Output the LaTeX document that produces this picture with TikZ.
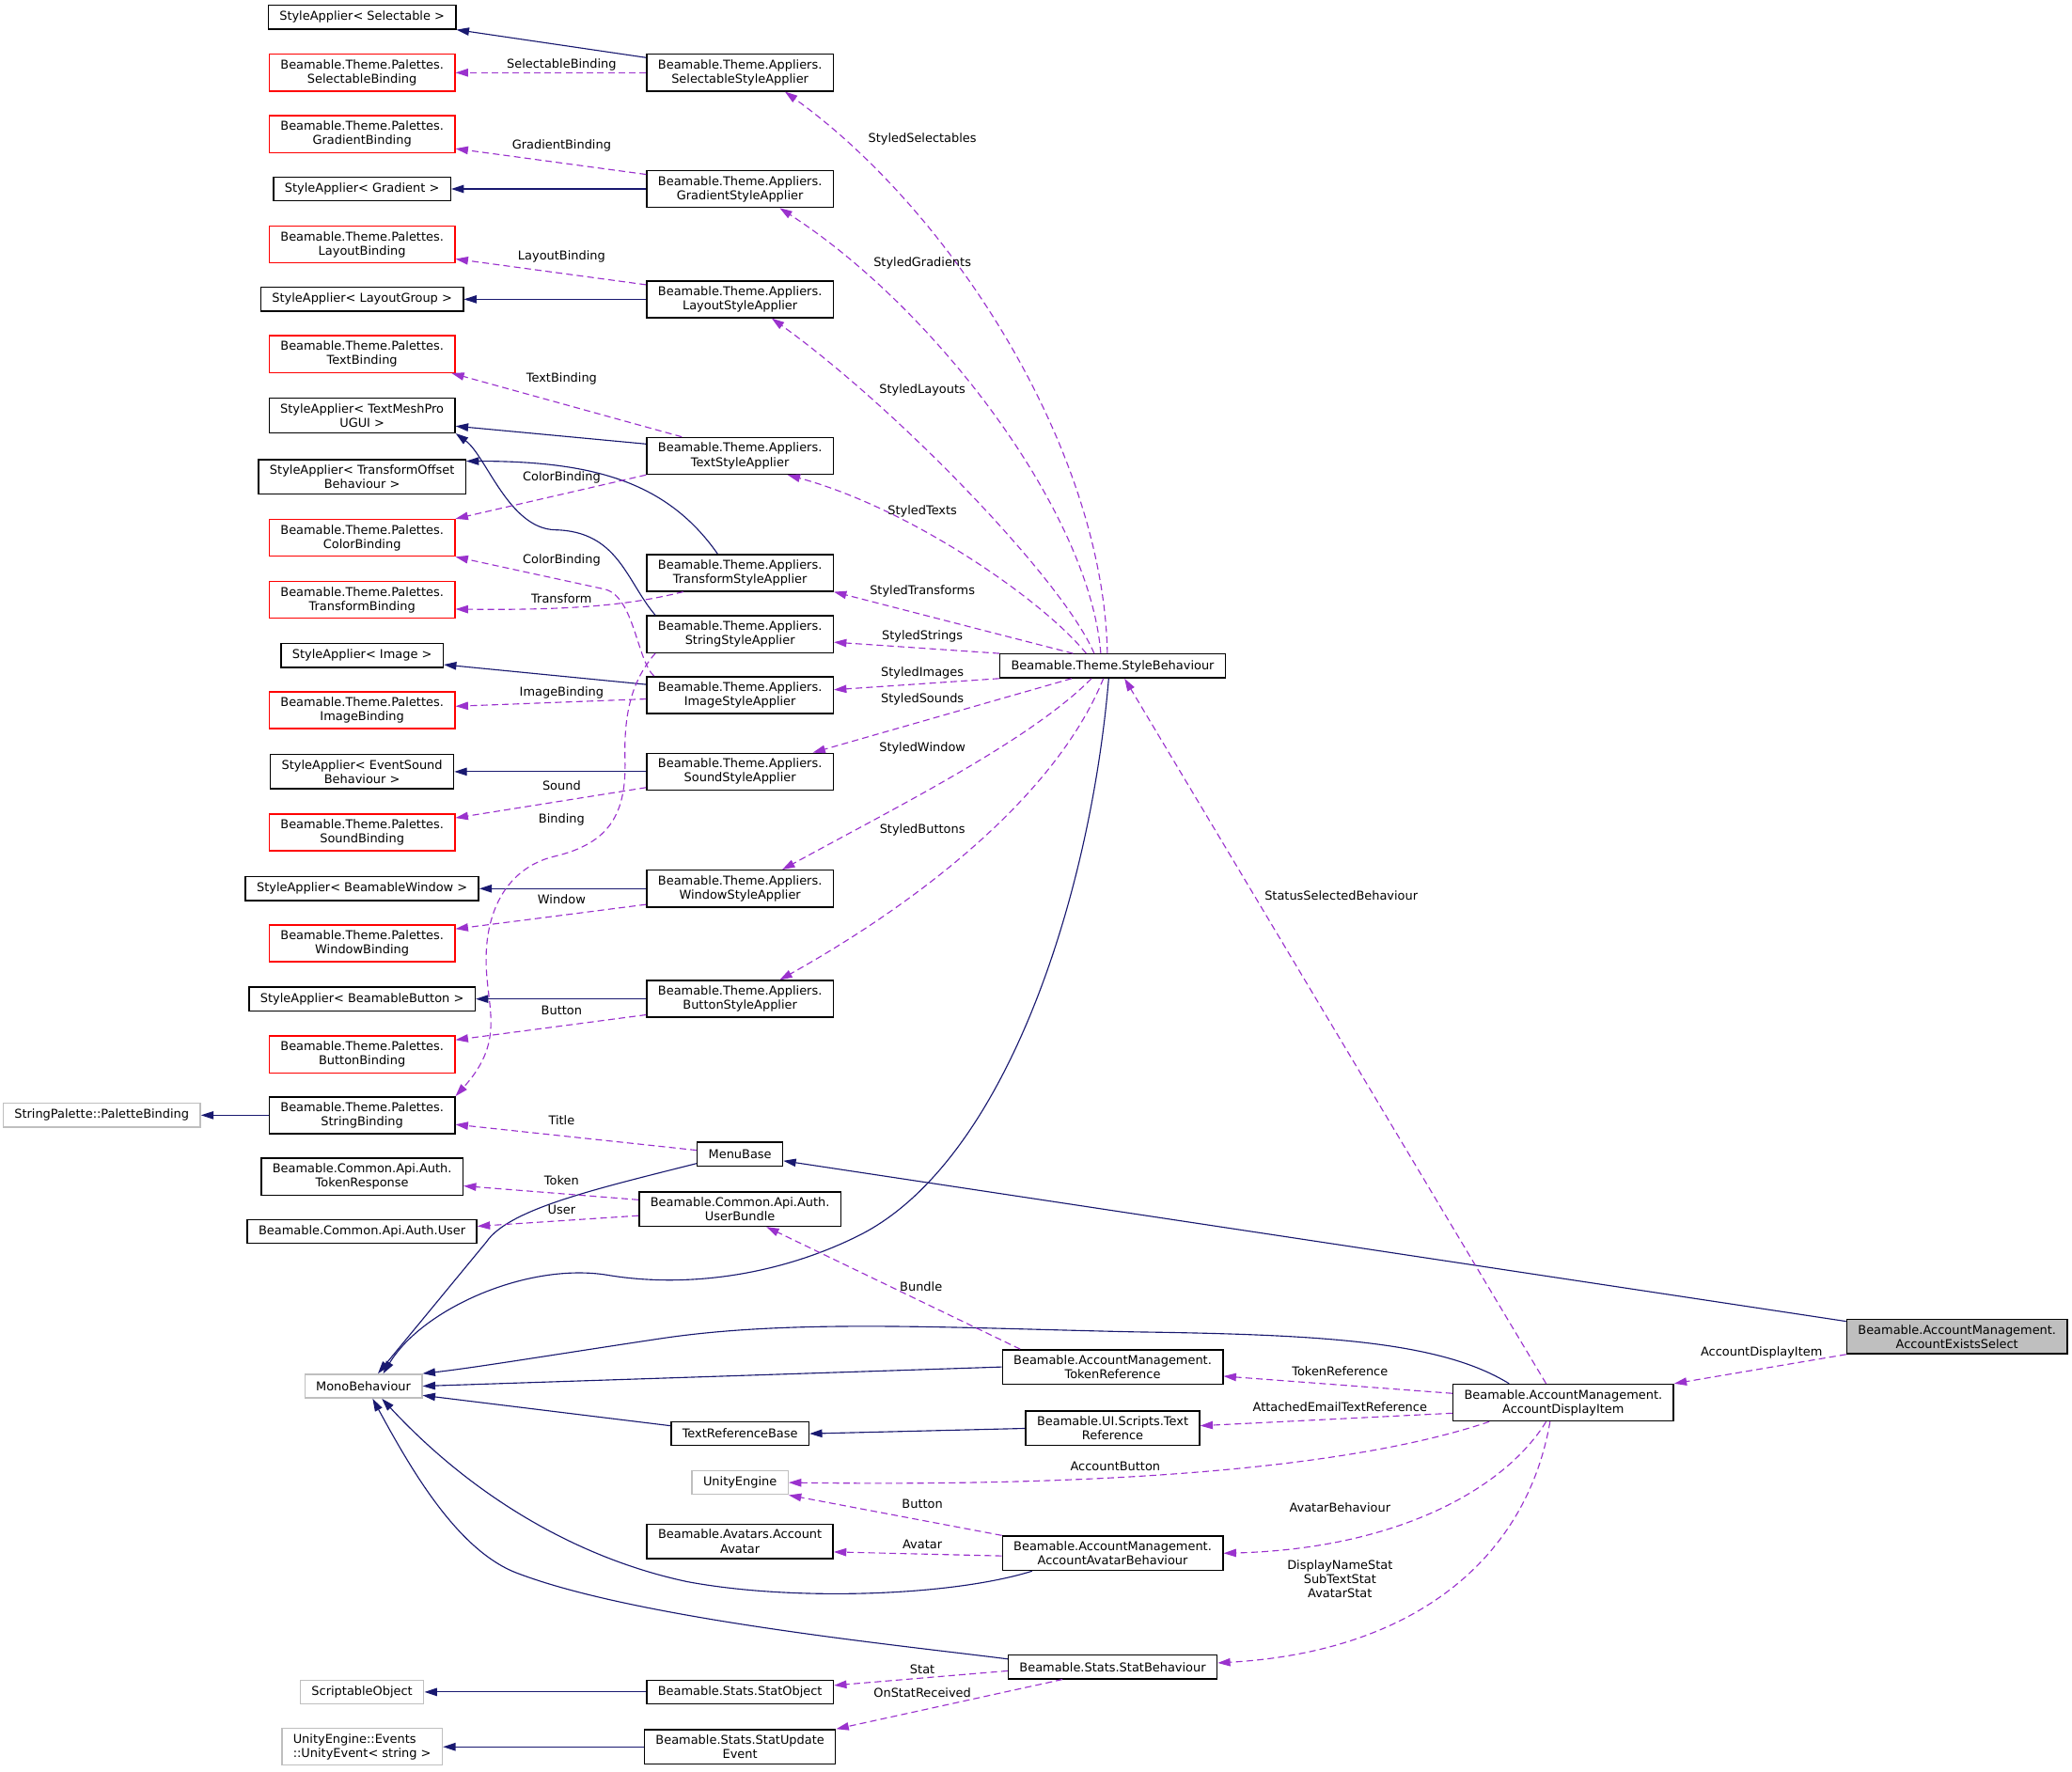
\documentclass[tikz,border=0pt]{standalone}
\usepackage{fontspec}
\setmainfont{DejaVu Sans}
\usetikzlibrary{arrows.meta}

\definecolor{navy}{HTML}{191970}
\definecolor{orchid}{HTML}{9A32CD}
\definecolor{lgray}{HTML}{BFBFBF}

\begin{document}
\begin{tikzpicture}[x=1pt,y=-1pt,
  every node/.style={font=\fontsize{9.2}{10.7}\selectfont},
  cls/.style={draw=black,fill=white,line width=1pt,align=center,
    inner xsep=8.5pt,inner ysep=4.1pt,minimum height=18pt},
  clsred/.style={cls,draw=red},
  clsgray/.style={cls,draw=lgray},
  inh/.style={navy,line width=0.8pt,-{Triangle[length=9.5pt,width=6pt]}},
  use/.style={orchid,line width=0.8pt,dash pattern=on 5pt off 3pt,
    -{Triangle[length=9.5pt,width=6pt]}},
  lbl/.style={text=black,inner sep=0pt,align=center}]

  % page
  \fill[white] (0,0) rectangle (1568,1341);
  \useasboundingbox (0,0) rectangle (1568,1341);

  % left column: palettes and base classes
  \node[cls]     (sSel)   at (274,13)    {StyleApplier< Selectable >};
  \node[clsred]  (pSel)   at (274,55)    {Beamable.Theme.Palettes.\\SelectableBinding};
  \node[clsred]  (pGrad)  at (274,101.5) {Beamable.Theme.Palettes.\\GradientBinding};
  \node[cls]     (sGrad)  at (274,143)   {StyleApplier< Gradient >};
  \node[clsred]  (pLay)   at (274,185)   {Beamable.Theme.Palettes.\\LayoutBinding};
  \node[cls]     (sLay)   at (274,226.5) {StyleApplier< LayoutGroup >};
  \node[clsred]  (pText)  at (274,268)   {Beamable.Theme.Palettes.\\TextBinding};
  \node[cls]     (sTmp)   at (274,314.5) {StyleApplier< TextMeshPro\\UGUI >};
  \node[cls]     (sTrf)   at (274,361)   {StyleApplier< TransformOffset\\Behaviour >};
  \node[clsred]  (pColor) at (274,407)   {Beamable.Theme.Palettes.\\ColorBinding};
  \node[clsred]  (pTrf)   at (274,454)   {Beamable.Theme.Palettes.\\TransformBinding};
  \node[cls]     (sImg)   at (274,496)   {StyleApplier< Image >};
  \node[clsred]  (pImg)   at (274,537.5) {Beamable.Theme.Palettes.\\ImageBinding};
  \node[cls]     (sSnd)   at (274,584)   {StyleApplier< EventSound\\Behaviour >};
  \node[clsred]  (pSnd)   at (274,630)   {Beamable.Theme.Palettes.\\SoundBinding};
  \node[cls]     (sWin)   at (274,672.5) {StyleApplier< BeamableWindow >};
  \node[clsred]  (pWin)   at (274,714)   {Beamable.Theme.Palettes.\\WindowBinding};
  \node[cls]     (sBtn)   at (274,756)   {StyleApplier< BeamableButton >};
  \node[clsred]  (pBtn)   at (274,798)   {Beamable.Theme.Palettes.\\ButtonBinding};
  \node[cls]     (pStr)   at (274,844)   {Beamable.Theme.Palettes.\\StringBinding};
  \node[clsgray] (palBind) at (77,844)   {StringPalette::PaletteBinding};
  \node[cls]     (tokResp) at (274,890.5) {Beamable.Common.Api.Auth.\\TokenResponse};
  \node[cls]     (authUser) at (274,932) {Beamable.Common.Api.Auth.User};
  \node[clsgray] (mono)   at (275,1049)  {MonoBehaviour};
  \node[clsgray] (scrObj) at (274,1280.5) {ScriptableObject};
  \node[clsgray,align=left] (uEvent) at (274,1322) {UnityEngine::Events\\::UnityEvent< string >};

  % middle column: appliers and helpers
  \node[cls] (aSel)   at (560,55)    {Beamable.Theme.Appliers.\\SelectableStyleApplier};
  \node[cls] (aGrad)  at (560,143)   {Beamable.Theme.Appliers.\\GradientStyleApplier};
  \node[cls] (aLay)   at (560,226.5) {Beamable.Theme.Appliers.\\LayoutStyleApplier};
  \node[cls] (aText)  at (560,345)   {Beamable.Theme.Appliers.\\TextStyleApplier};
  \node[cls] (aTrf)   at (560,433.5) {Beamable.Theme.Appliers.\\TransformStyleApplier};
  \node[cls] (aStr)   at (560,480)   {Beamable.Theme.Appliers.\\StringStyleApplier};
  \node[cls] (aImg)   at (560,526)   {Beamable.Theme.Appliers.\\ImageStyleApplier};
  \node[cls] (aSnd)   at (560,584)   {Beamable.Theme.Appliers.\\SoundStyleApplier};
  \node[cls] (aWin)   at (560,672.5) {Beamable.Theme.Appliers.\\WindowStyleApplier};
  \node[cls] (aBtn)   at (560,756)   {Beamable.Theme.Appliers.\\ButtonStyleApplier};
  \node[cls] (menu)   at (560,873.5) {MenuBase};
  \node[cls] (bundle) at (560,915)   {Beamable.Common.Api.Auth.\\UserBundle};
  \node[cls] (trBase) at (560,1085)  {TextReferenceBase};
  \node[clsgray] (unity) at (560,1122) {UnityEngine};
  \node[cls] (avatar) at (560,1166.5) {Beamable.Avatars.Account\\Avatar};
  \node[cls] (statObj) at (560,1280.5) {Beamable.Stats.StatObject};
  \node[cls] (statEvt) at (560,1322) {Beamable.Stats.StatUpdate\\Event};

  % right side
  \node[cls] (style)    at (842,504)    {Beamable.Theme.StyleBehaviour};
  \node[cls] (tokRef)   at (842,1034.5) {Beamable.AccountManagement.\\TokenReference};
  \node[cls] (txtRef)   at (842,1081)   {Beamable.UI.Scripts.Text\\Reference};
  \node[cls] (avBeh)    at (842,1175.5) {Beamable.AccountManagement.\\AccountAvatarBehaviour};
  \node[cls] (statBeh)  at (842,1261.5) {Beamable.Stats.StatBehaviour};
  \node[cls] (dispItem) at (1183,1061.5) {Beamable.AccountManagement.\\AccountDisplayItem};
  \node[cls,fill=lgray] (exists) at (1481,1011.5) {Beamable.AccountManagement.\\AccountExistsSelect};

  % inheritance
  \draw[inh] ([yshift=-3pt]aSel.north west) -- (sSel.south east);
  \draw[inh] (aGrad.west) -- (sGrad.east);
  \draw[inh] (aLay.west) -- (sLay.east);
  \draw[inh] ([yshift=9pt]aText.west) -- ([yshift=-8pt]sTmp.east);
  \draw[inh] ([xshift=-17pt]aTrf.north) .. controls (505,365) and (450,349) .. ([yshift=-1.5pt]sTrf.north east);
  \draw[inh] ([xshift=7pt]aStr.north west) .. controls (474,440) and (468,402) .. (420,401)
    .. controls (385,400) and (368,345) .. (sTmp.south east);
  \draw[inh] ([yshift=8pt]aImg.west) -- ([yshift=-7pt]sImg.east);
  \draw[inh] (aSnd.west) -- (sSnd.east);
  \draw[inh] (aWin.west) -- (sWin.east);
  \draw[inh] (aBtn.west) -- (sBtn.east);
  \draw[inh] (pStr.west) -- (palBind.east);
  \draw[inh] ([yshift=-2pt]exists.north west) -- ([yshift=-5pt]menu.east);
  \draw[inh] ([yshift=-7pt]menu.west) .. controls (450,900) and (385,915) .. (368,940) -- ([xshift=11pt]mono.north);
  \draw[inh] ([xshift=-3pt]style.south) .. controls (825,680) and (760,880) .. (650,935)
    .. controls (590,965) and (520,975) .. (460,965)
    .. controls (400,955) and (320,990) .. ([xshift=15pt]mono.north);
  \draw[inh] ([xshift=-41pt]dispItem.north) .. controls (1090,1015) and (1000,1010) .. (860,1008)
    .. controls (720,1005) and (600,998) .. (500,1013)
    .. controls (420,1025) and (360,1035) .. (mono.north east);
  \draw[inh] (tokRef.west) -- (mono.east);
  \draw[inh] ([yshift=6pt]trBase.west) -- ([yshift=-7pt]mono.east);
  \draw[inh] (txtRef.west) -- (trBase.east);
  \draw[inh] ([xshift=-61pt]avBeh.south) .. controls (720,1208) and (600,1212) .. (520,1197)
    .. controls (440,1180) and (360,1135) .. ([xshift=14pt]mono.south);
  \draw[inh] ([yshift=6pt]statBeh.west) .. controls (680,1245) and (480,1225) .. (390,1190)
    .. controls (345,1172) and (310,1110) .. ([xshift=7pt]mono.south);
  \draw[inh] (statObj.west) -- (scrObj.east);
  \draw[inh] (statEvt.west) -- (uEvent.east);

  % usage: appliers to palettes
  \draw[use] (aSel.west) -- (pSel.east) node[lbl] at (425,49) {SelectableBinding};
  \draw[use] ([yshift=11pt]aGrad.west) -- ([yshift=-11pt]pGrad.east) node[lbl] at (425,110.5) {GradientBinding};
  \draw[use] ([yshift=11pt]aLay.west) -- ([yshift=-11pt]pLay.east) node[lbl] at (425,194) {LayoutBinding};
  \draw[use] ([xshift=27pt]aText.north west) -- ([xshift=-3pt]pText.south east) node[lbl] at (425,287) {TextBinding};
  \draw[use] (aText.south west) -- (pColor.north east) node[lbl] at (425,361) {ColorBinding};
  \draw[use] ([xshift=6pt]aImg.north west) .. controls (482,500) and (480,452) .. (458,446)
    -- (pColor.south east) node[lbl] at (425,424) {ColorBinding};
  \draw[use] ([xshift=-43pt]aTrf.south) .. controls (480,457) and (440,462) .. ([yshift=-7pt]pTrf.east)
    node[lbl] at (425,453) {Transform};
  \draw[use] ([yshift=-3pt]aImg.west) -- ([yshift=3pt]pImg.east) node[lbl] at (425,524) {ImageBinding};
  \draw[use] ([yshift=-12pt]aSnd.west) -- ([yshift=11pt]pSnd.east) node[lbl] at (425,594.5) {Sound};
  \draw[use] ([xshift=7pt]aStr.south west) .. controls (478,515) and (472,540) .. (473,575)
    .. controls (474,615) and (462,638) .. (420,648)
    .. controls (390,655) and (370,680) .. (368,720)
    .. controls (366,760) and (385,785) .. (pStr.north east) node[lbl] at (425,620.5) {Binding};
  \draw[use] ([yshift=-12pt]aWin.west) -- ([yshift=11pt]pWin.east) node[lbl] at (425,680.5) {Window};
  \draw[use] ([yshift=-12pt]aBtn.west) -- ([yshift=11pt]pBtn.east) node[lbl] at (425,765) {Button};
  \draw[use] ([yshift=3pt]menu.west) -- ([yshift=-7pt]pStr.east) node[lbl] at (425,848) {Title};
  \draw[use] ([yshift=7pt]bundle.west) -- ([yshift=-7pt]tokResp.east) node[lbl] at (425,893.5) {Token};
  \draw[use] ([yshift=-5pt]bundle.west) -- ([yshift=4pt]authUser.east) node[lbl] at (425,915.5) {User};

  % usage: StyleBehaviour to appliers
  \draw[use] ([xshift=-4pt]style.north) .. controls (835,340) and (720,160) .. ([xshift=34pt]aSel.south)
    node[lbl] at (698,105) {StyledSelectables};
  \draw[use] ([xshift=-9pt]style.north) .. controls (825,390) and (710,235) .. ([xshift=30pt]aGrad.south)
    node[lbl] at (698,199) {StyledGradients};
  \draw[use] ([xshift=-14pt]style.north) .. controls (805,440) and (680,310) .. ([xshift=24pt]aLay.south)
    node[lbl] at (698,295) {StyledLayouts};
  \draw[use] ([xshift=-20pt]style.north) .. controls (790,455) and (690,385) .. ([xshift=36pt]aText.south)
    node[lbl] at (698,387) {StyledTexts};
  \draw[use] ([xshift=-30pt]style.north) -- (aTrf.south east) node[lbl] at (698,447.5) {StyledTransforms};
  \draw[use] (style.north west) -- ([yshift=-6pt]aStr.east) node[lbl] at (698,481.5) {StyledStrings};
  \draw[use] (style.south west) -- ([yshift=4pt]aImg.east) node[lbl] at (698,509) {StyledImages};
  \draw[use] ([xshift=-31pt]style.south) -- ([xshift=-16pt]aSnd.north east) node[lbl] at (698,529) {StyledSounds};
  \draw[use] ([xshift=-16pt]style.south) .. controls (780,560) and (680,610) .. ([xshift=32pt]aWin.north)
    node[lbl] at (698,566) {StyledWindow};
  \draw[use] ([xshift=-7pt]style.south) .. controls (800,600) and (700,680) .. ([xshift=30pt]aBtn.north)
    node[lbl] at (698,628) {StyledButtons};

  % usage: account management
  \draw[use] ([xshift=-13pt]dispItem.north) -- ([xshift=9pt]style.south) node[lbl] at (1015,677.5) {StatusSelectedBehaviour};
  \draw[use] (exists.south west) -- (dispItem.north east) node[lbl] at (1333,1023.5) {AccountDisplayItem};
  \draw[use] ([xshift=-70pt]tokRef.north) -- ([xshift=20pt]bundle.south) node[lbl] at (697,973.5) {Bundle};
  \draw[use] ([yshift=7pt]dispItem.west) -- ([yshift=-7pt]tokRef.east) node[lbl] at (1014,1038) {TokenReference};
  \draw[use] ([yshift=-8pt]dispItem.west) -- ([yshift=2pt]txtRef.east) node[lbl] at (1014,1065) {AttachedEmailTextReference};
  \draw[use] ([xshift=-56pt]dispItem.south) .. controls (1050,1102) and (900,1126) .. (unity.east)
    node[lbl] at (844,1110) {AccountButton};
  \draw[use] (avBeh.north west) -- (unity.south east) node[lbl] at (698,1138) {Button};
  \draw[use] ([yshift=-2pt]avBeh.west) -- ([yshift=-8pt]avatar.east) node[lbl] at (698,1169) {Avatar};
  \draw[use] ([xshift=-13pt]dispItem.south) .. controls (1140,1125) and (1060,1172) .. (avBeh.east)
    node[lbl] at (1014,1141) {AvatarBehaviour};
  \draw[use] ([xshift=-10pt]dispItem.south) .. controls (1155,1180) and (1070,1250) .. ([yshift=3pt]statBeh.east)
    node[lbl] at (1014,1195) {DisplayNameStat\\SubTextStat\\AvatarStat};
  \draw[use] ([yshift=-3pt]statBeh.west) -- ([yshift=5pt]statObj.east) node[lbl] at (698,1263) {Stat};
  \draw[use] ([xshift=-38pt]statBeh.south) -- (statEvt.north east) node[lbl] at (698,1281) {OnStatReceived};
\end{tikzpicture}
\end{document}
